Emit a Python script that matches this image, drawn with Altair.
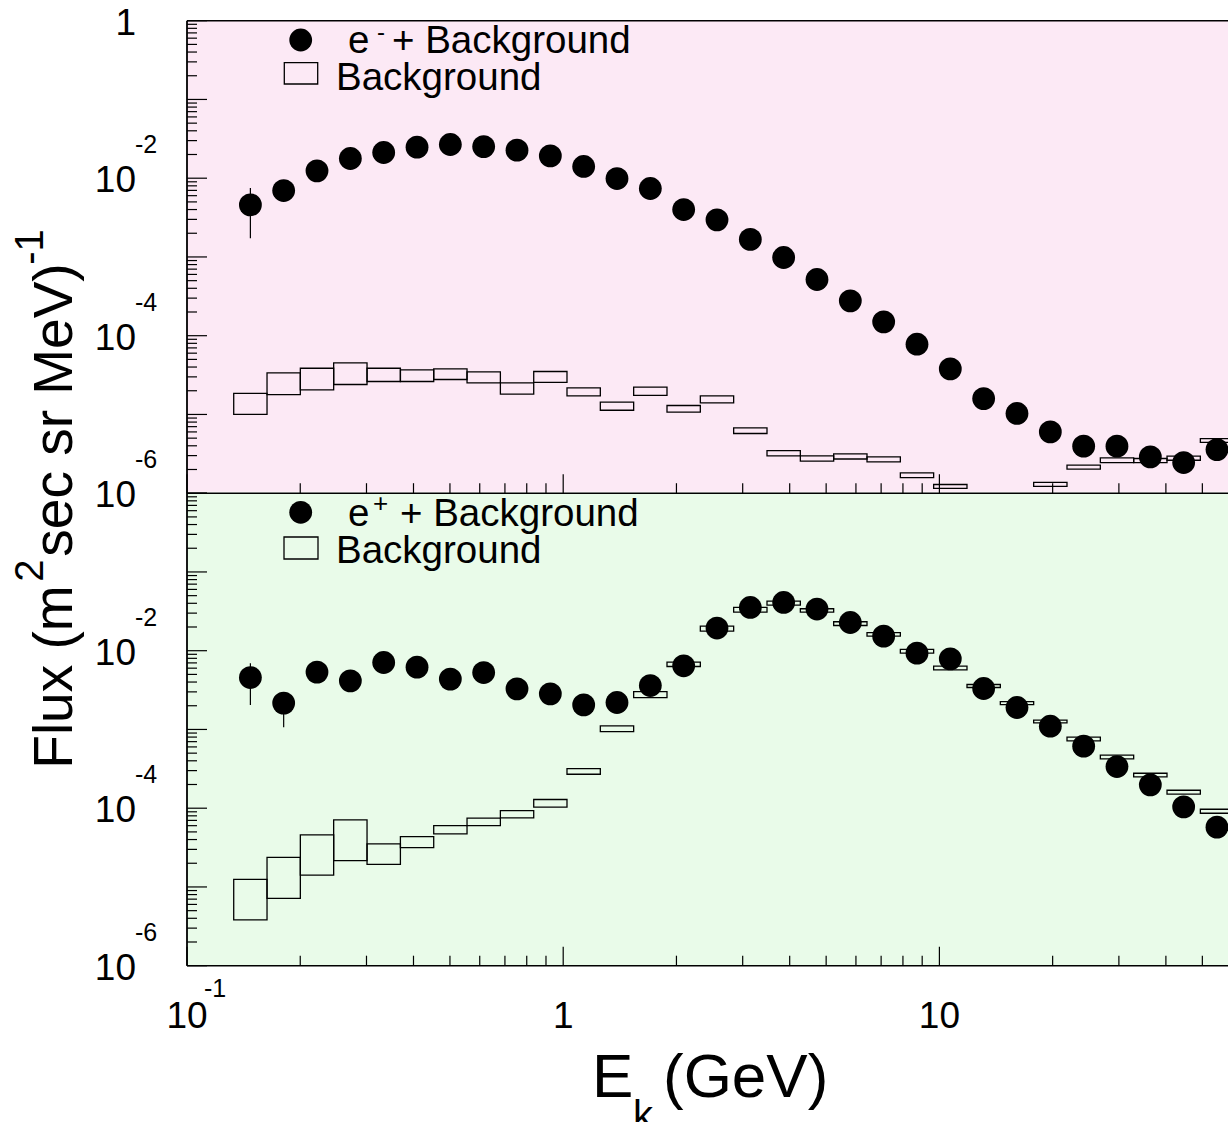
import altair as alt
import pandas as pd

# ---------------- data ----------------
bin_lo = [0.1331, 0.1632, 0.2001, 0.2454, 0.3010, 0.3692, 0.4527, 0.5551, 0.6808, 0.8349,
          1.0235, 1.2551, 1.5392, 1.8876, 2.3148, 2.8387, 3.4813, 4.2693, 5.2356, 6.4207,
          7.8740, 9.6539, 11.840, 14.520, 17.807, 21.837, 26.780, 32.842, 40.276, 49.393]
bin_hi = [0.1632, 0.2001, 0.2454, 0.3010, 0.3692, 0.4527, 0.5551, 0.6808, 0.8349, 1.0235,
          1.2551, 1.5392, 1.8876, 2.3148, 2.8387, 3.4813, 4.2693, 5.2356, 6.4207, 7.8740,
          9.6539, 11.840, 14.520, 17.807, 21.837, 26.780, 32.842, 40.276, 49.393, 60.574]
bin_center = [0.1474, 0.1807, 0.2216, 0.2718, 0.3333, 0.4088, 0.5012, 0.6146, 0.7537, 0.9243,
              1.1335, 1.3900, 1.7046, 2.0904, 2.5635, 3.1437, 3.8548, 4.7275, 5.7971, 7.1096,
              8.7186, 10.690, 13.111, 16.079, 19.718, 24.180, 29.648, 36.365, 44.594, 54.688]

# electrons + background (top panel)
em_flux = [4.58e-3, 6.97e-3, 1.24e-2, 1.78e-2, 2.12e-2, 2.48e-2, 2.68e-2, 2.52e-2, 2.27e-2, 1.92e-2,
           1.41e-2, 9.9e-3, 7.4e-3, 4.0e-3, 2.96e-3, 1.67e-3, 9.84e-4, 5.17e-4, 2.77e-4, 1.50e-4,
           7.8e-5, 3.79e-5, 1.59e-5, 1.03e-5, 6.0e-6, 3.96e-6, 3.96e-6, 2.89e-6, 2.45e-6, 3.58e-6]
em_bg_lo = [1.00e-5, 1.79e-5, 2.05e-5, 2.40e-5, 2.62e-5, 2.62e-5, 2.78e-5, 2.52e-5, 1.81e-5, 2.55e-5,
            1.72e-5, 1.13e-5, 1.75e-5, 1.07e-5, 1.40e-5, 5.73e-6, 2.98e-6, 2.55e-6, 2.72e-6, 2.50e-6,
            1.58e-6, 1.15e-6, None, None, 1.22e-6, 2.02e-6, 2.45e-6, 2.45e-6, 2.62e-6, 4.41e-6]
em_bg_hi = [1.85e-5, 3.37e-5, 3.86e-5, 4.52e-5, 3.86e-5, 3.68e-5, 3.79e-5, 3.47e-5, 2.52e-5, 3.51e-5,
            2.17e-5, 1.43e-5, 2.22e-5, 1.30e-5, 1.72e-5, 6.75e-6, 3.48e-6, 2.98e-6, 3.15e-6, 2.89e-6,
            1.81e-6, 1.29e-6, None, None, 1.37e-6, 2.27e-6, 2.81e-6, 2.76e-6, 2.95e-6, 4.94e-6]
em_err_bin = [0]
em_err_lo = [1.73e-3]
em_err_hi = [7.5e-3]

# positrons + background (bottom panel)
ep_flux = [4.56e-3, 2.16e-3, 5.35e-3, 4.14e-3, 7.08e-3, 6.18e-3, 4.36e-3, 5.28e-3, 3.28e-3, 2.83e-3,
           2.05e-3, 2.20e-3, 3.61e-3, 6.43e-3, 1.94e-2, 3.54e-2, 4.10e-2, 3.38e-2, 2.28e-2, 1.53e-2,
           9.3e-3, 7.88e-3, 3.31e-3, 1.90e-3, 1.10e-3, 6.14e-4, 3.38e-4, 1.98e-4, 1.04e-4, 5.74e-5]
ep_bg_lo = [3.81e-6, 7.18e-6, 1.41e-5, 2.16e-5, 1.94e-5, 3.16e-5, 4.71e-5, 6.01e-5, 7.53e-5, 1.03e-4,
            2.70e-4, 9.4e-4, 2.54e-3, 6.30e-3, 1.77e-2, 3.09e-2, 3.80e-2, 3.09e-2, 2.09e-2, 1.53e-2,
            9.3e-3, 5.72e-3, 3.41e-3, 2.07e-3, 1.21e-3, 7.16e-4, 4.23e-4, 2.50e-4, 1.51e-4, 8.63e-5]
ep_bg_hi = [1.25e-5, 2.38e-5, 4.58e-5, 7.10e-5, 3.52e-5, 4.36e-5, 6.01e-5, 7.46e-5, 9.31e-5, 1.29e-4,
            3.18e-4, 1.11e-3, 3.03e-3, 7.16e-3, 2.05e-2, 3.54e-2, 4.27e-2, 3.41e-2, 2.33e-2, 1.70e-2,
            1.04e-2, 6.37e-3, 3.72e-3, 2.26e-3, 1.31e-3, 7.98e-4, 4.71e-4, 2.78e-4, 1.69e-4, 9.7e-5]
ep_err_bin = [0, 1]
ep_err_lo = [2.05e-3, 1.07e-3]
ep_err_hi = [6.95e-3, 3.0e-3]

# axis ticks / labels
y_major = [1e-6, 1e-5, 1e-4, 1e-3, 1e-2, 1e-1, 1.0]
y_minor = [m * d for d in [1e-6, 1e-5, 1e-4, 1e-3, 1e-2, 1e-1] for m in range(2, 10)]
x_major = [0.1, 1.0, 10.0]
x_minor = [m * d for d in [0.1, 1.0, 10.0] for m in range(2, 10)]
x_minor = [v for v in x_minor if v < 58.5]
ytop_lab_val = [1.0, 1e-2, 1e-4, 1e-6]
ytop_lab_base = ["1", "10", "10", "10"]
ytop_lab_sup = ["", "-2", "-4", "-6"]
ybot_lab_val = [1e-2, 1e-4, 1e-6]
ybot_lab_base = ["10", "10", "10"]
ybot_lab_sup = ["-2", "-4", "-6"]
x_lab_val = [0.1, 1.0, 10.0]
x_lab_base = ["10", "1", "10"]
x_lab_sup = ["-1", "", ""]

# ---------------- layout ----------------
W = 1041
H = 945
HP = 472.5
FONT = "Liberation Sans, Arial, Helvetica, sans-serif"
NARROW = "Liberation Sans Narrow, Arial Narrow, Liberation Sans, Arial, sans-serif"
PINK = "#fce9f5"
GREEN = "#e9fbe9"

xs = alt.Scale(type="log", domain=[0.1, 58.5], nice=False)
ys_top = alt.Scale(type="log", domain=[1e-6, 1.0], range=[HP, 0], nice=False)
ys_bot = alt.Scale(type="log", domain=[1e-6, 1.0], range=[H, HP], nice=False)


def bins_df(lo_vals, hi_vals):
    rows = []
    for i in range(len(bin_lo)):
        if lo_vals[i] is None:
            continue
        rows.append({"x0": bin_lo[i], "x1": bin_hi[i], "y0": lo_vals[i], "y1": hi_vals[i]})
    return pd.DataFrame(rows)


def points_df(vals):
    return pd.DataFrame({"x": bin_center, "y": vals})


def err_df(idx, lo, hi):
    return pd.DataFrame({"x": [bin_center[i] for i in idx], "y0": lo, "y1": hi})


def txt(s, x, y, size, font=FONT, align="left", angle=0):
    kw = dict(fontSize=size, font=font, align=align, baseline="alphabetic", color="black")
    if angle:
        kw["angle"] = angle
    return alt.Chart(pd.DataFrame({"t": [s]})).mark_text(**kw).encode(
        text="t:N", x=alt.value(x), y=alt.value(y))


layers = []

# panel backgrounds
layers.append(alt.Chart(pd.DataFrame({"p": [0]})).mark_rect(color=PINK).encode(
    x=alt.value(0), x2=alt.value(W), y=alt.value(0), y2=alt.value(HP - 1.5)))
layers.append(alt.Chart(pd.DataFrame({"p": [0]})).mark_rect(color=GREEN).encode(
    x=alt.value(0), x2=alt.value(W), y=alt.value(HP), y2=alt.value(H)))


def panel_layers(scale, flux, bg_lo, bg_hi, eidx, elo, ehi):
    out = []
    out.append(alt.Chart(bins_df(bg_lo, bg_hi)).mark_rect(
        fill="transparent", stroke="black", strokeWidth=1.3, clip=True).encode(
        x=alt.X("x0:Q", scale=xs, axis=None), x2="x1:Q",
        y=alt.Y("y0:Q", scale=scale, axis=None), y2="y1:Q"))
    out.append(alt.Chart(err_df(eidx, elo, ehi)).mark_rule(
        color="black", strokeWidth=1.2, clip=True).encode(
        x=alt.X("x:Q", scale=xs, axis=None),
        y=alt.Y("y0:Q", scale=scale, axis=None), y2="y1:Q"))
    out.append(alt.Chart(points_df(flux)).mark_circle(
        size=520, color="black", opacity=1, clip=True).encode(
        x=alt.X("x:Q", scale=xs, axis=None),
        y=alt.Y("y:Q", scale=scale, axis=None)))
    # y ticks (inside, left)
    out.append(alt.Chart(pd.DataFrame({"v": y_major})).mark_rule(
        color="black", strokeWidth=1.2).encode(
        y=alt.Y("v:Q", scale=scale, axis=None), x=alt.value(0), x2=alt.value(20)))
    out.append(alt.Chart(pd.DataFrame({"v": y_minor})).mark_rule(
        color="black", strokeWidth=1.2).encode(
        y=alt.Y("v:Q", scale=scale, axis=None), x=alt.value(0), x2=alt.value(10)))
    return out


layers += panel_layers(ys_top, em_flux, em_bg_lo, em_bg_hi, em_err_bin, em_err_lo, em_err_hi)
layers += panel_layers(ys_bot, ep_flux, ep_bg_lo, ep_bg_hi, ep_err_bin, ep_err_lo, ep_err_hi)

# x ticks (inside, pointing up) at the bottom of each panel
for base in [HP, H]:
    layers.append(alt.Chart(pd.DataFrame({"v": x_major})).mark_rule(
        color="black", strokeWidth=1.2).encode(
        x=alt.X("v:Q", scale=xs, axis=None), y=alt.value(base), y2=alt.value(base - 19)))
    layers.append(alt.Chart(pd.DataFrame({"v": x_minor})).mark_rule(
        color="black", strokeWidth=1.2).encode(
        x=alt.X("v:Q", scale=xs, axis=None), y=alt.value(base), y2=alt.value(base - 10)))

# frame lines
for yy in [0, HP, H]:
    layers.append(alt.Chart(pd.DataFrame({"p": [0]})).mark_rule(
        color="black", strokeWidth=1.6).encode(
        x=alt.value(0), x2=alt.value(W), y=alt.value(yy)))
layers.append(alt.Chart(pd.DataFrame({"p": [0]})).mark_rule(
    color="black", strokeWidth=1.8).encode(
    x=alt.value(0), y=alt.value(0), y2=alt.value(H)))

# y tick labels
for scale, vals, base_t, sup_t in [(ys_top, ytop_lab_val, ytop_lab_base, ytop_lab_sup),
                                   (ys_bot, ybot_lab_val, ybot_lab_base, ybot_lab_sup)]:
    d = pd.DataFrame({"v": vals, "b": base_t, "s": sup_t})
    layers.append(alt.Chart(d).mark_text(
        font=NARROW, fontSize=37, align="right", baseline="alphabetic", dy=14, color="black").encode(
        y=alt.Y("v:Q", scale=scale, axis=None), x=alt.value(-51), text="b:N"))
    layers.append(alt.Chart(d).mark_text(
        font=NARROW, fontSize=25, align="left", baseline="alphabetic", dy=-25, color="black").encode(
        y=alt.Y("v:Q", scale=scale, axis=None), x=alt.value(-52), text="s:N"))

# x tick labels
dx_ = pd.DataFrame({"v": x_lab_val, "b": x_lab_base, "s": x_lab_sup})
layers.append(alt.Chart(dx_).mark_text(
    font=NARROW, fontSize=37, align="center", baseline="alphabetic", color="black").encode(
    x=alt.X("v:Q", scale=xs, axis=None), y=alt.value(1007), text="b:N"))
layers.append(alt.Chart(dx_).mark_text(
    font=NARROW, fontSize=25, align="left", baseline="alphabetic", dx=17, color="black").encode(
    x=alt.X("v:Q", scale=xs, axis=None), y=alt.value(976), text="s:N"))

# axis titles
layers.append(txt("E", 405, 1076, 62))
layers.append(txt("k", 446, 1108, 40))
layers.append(txt("(GeV)", 476, 1076, 62))
layers.append(txt("Flux (m", -115, 748, 55, angle=270))
layers.append(txt("2", -144, 561, 40, angle=270))
layers.append(txt("sec sr MeV)", -115, 536, 55, angle=270))
layers.append(txt("-1", -144, 244, 40, angle=270))

# legends (top panel)
layers.append(alt.Chart(pd.DataFrame({"p": [0]})).mark_circle(size=520, color="black", opacity=1).encode(
    x=alt.value(113.7), y=alt.value(19.3)))
layers.append(txt("e", 161, 32.6, 38.5))
layers.append(txt("-", 190, 19.5, 24))
layers.append(txt("+ Background", 205, 32.6, 38.5))
layers.append(alt.Chart(pd.DataFrame({"p": [0]})).mark_rect(
    fill="transparent", stroke="black", strokeWidth=1.3).encode(
    x=alt.value(97.3), x2=alt.value(130.7), y=alt.value(42), y2=alt.value(63.3)))
layers.append(txt("Background", 149, 69.3, 38.5))

# legends (bottom panel)
layers.append(alt.Chart(pd.DataFrame({"p": [0]})).mark_circle(size=520, color="black", opacity=1).encode(
    x=alt.value(113.7), y=alt.value(491.6)))
layers.append(txt("e", 161, 505.3, 38.5))
layers.append(txt("+", 186, 491.3, 26))
layers.append(txt("+ Background", 213, 505.3, 38.5))
layers.append(alt.Chart(pd.DataFrame({"p": [0]})).mark_rect(
    fill="transparent", stroke="black", strokeWidth=1.3).encode(
    x=alt.value(97), x2=alt.value(131), y=alt.value(516.3), y2=alt.value(538.3)))
layers.append(txt("Background", 149, 542.6, 38.5))

chart = alt.layer(*layers).resolve_scale(y="independent").properties(
    width=W, height=H,
    autosize=alt.AutoSizeParams(type="none"),
    padding={"left": 187, "top": 20.7, "right": 0, "bottom": 156.3},
    background="white",
).configure_view(stroke="transparent")

chart.save("out.html", embed_options={"renderer": "svg", "actions": False})
